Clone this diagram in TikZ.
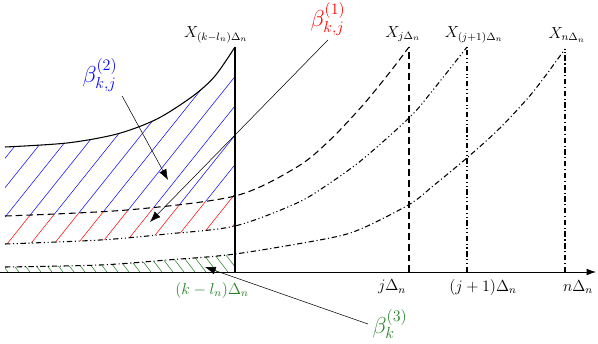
\documentclass[tikz,border=0pt]{standalone}
\usepackage{tikz}
\usetikzlibrary{arrows.meta}
\definecolor{hatchgreen}{RGB}{40,130,40}

% the four paths, in pixel-like units
\def\curvek{plot[smooth] coordinates {(5,125) (67,129) (117,138) (157,153) (193,176) (215,196) (235,225)}}
\def\curvej{plot[smooth] coordinates {(5,56) (127,62) (235,76) (297,105) (330,132) (363,167) (390,200) (409,225)}}
\def\curvejj{plot[smooth] coordinates {(5,28) (100,32) (167,38) (235,46) (297,69) (330,89) (363,113) (410,155) (433,182) (467,225)}}
\def\curven{plot[smooth] coordinates {(5,5) (100,7) (167,12) (235,18) (330,34) (363,44) (410,68) (433,86) (468,115) (500,144) (533,180) (565,223)}}

\begin{document}
\begin{tikzpicture}[
    x=0.75pt, y=0.75pt,
    lbl/.style={font=\large},
    blbl/.style={font=\LARGE},
    arr/.style={-{Latex[length=8pt,width=6pt]}, thin},
    ax/.style={-{Latex[length=7pt,width=5pt]}, semithick},
    hatch/.style={thin},
    jline/.style={thick, dash pattern=on 5pt off 3pt},
    jjline/.style={thick, dash pattern=on 4pt off 2pt on 0.8pt off 2pt on 0.8pt off 2pt},
    nline/.style={thick, dash pattern=on 4pt off 2pt on 0.8pt off 2pt},
]
\useasboundingbox (0,-71) rectangle (598,272);

% hatching
\begin{scope}
  \clip \curvek -- (235,0) -- (5,0) -- cycle;
  \clip \curvej -- (409,300) -- (5,300) -- cycle;
  \foreach \k in {-9,...,11}
    \draw[hatch, blue] ({-15.4+23.5*\k},0) -- ++(200,250);
\end{scope}
\begin{scope}
  \clip (5,0) rectangle (235,300);
  \clip \curvej -- (409,0) -- (5,0) -- cycle;
  \clip \curvejj -- (467,300) -- (5,300) -- cycle;
  \foreach \k in {-4,...,11}
    \draw[hatch, red] ({-15.4+23.5*\k},0) -- ++(200,250);
\end{scope}
\begin{scope}
  \clip (5,0) rectangle (235,300);
  \clip \curven -- (565,0) -- (5,0) -- cycle;
  \foreach \k in {0,...,23}
    \draw[hatch, hatchgreen] ({8+11*\k},0) -- ++(-15,19.5);
\end{scope}

% axis and curves
\coordinate (o) at (0,0);
\coordinate (xend) at (596,0);
\draw[ax] (o) -- (xend);

\draw[thick] \curvek;
\draw[jline] \curvej;
\draw[jjline] \curvejj;
\draw[nline] \curven;

\draw[thick] (235,0) -- (235,225);
\draw[jline] (409,0) -- (409,225);
\draw[jjline] (467,0) -- (467,225);
\draw[nline] (565,0) -- (565,223);

% labels
\node[lbl] (xk)  at (216,237) {$X_{(k-l_n)\Delta_n}$};
\node[lbl] (xj)  at (403,238) {$X_{j\Delta_n}$};
\node[lbl] (xjj) at (474,237) {$X_{(j+1)\Delta_n}$};
\node[lbl] (xn)  at (567,237) {$X_{n\Delta_n}$};

\node[lbl] (tj)  at (392,-15) {$j\Delta_n$};
\node[lbl] (tjj) at (483,-15) {$(j+1)\Delta_n$};
\node[lbl] (tn)  at (578,-15) {$n\Delta_n$};
\node[lbl, text=hatchgreen] (tk) at (212,-18) {$(k-l_n)\Delta_n$};

\node[blbl, text=blue] (b2) at (100,197) {$\beta^{(2)}_{k,j}$};
\node[blbl, text=red] (b1) at (328,253) {$\beta^{(1)}_{k,j}$};
\node[blbl, text=hatchgreen] (b3) at (390,-52) {$\beta^{(3)}_{k}$};

\coordinate (p2) at (168,92);
\coordinate (p1) at (150,50);
\coordinate (p3) at (205,5);
\draw[arr] (b2.south east) -- (p2);
\draw[arr] (b1.south) -- (p1);
\draw[arr] (b3.west) -- (p3);

\end{tikzpicture}
\end{document}
